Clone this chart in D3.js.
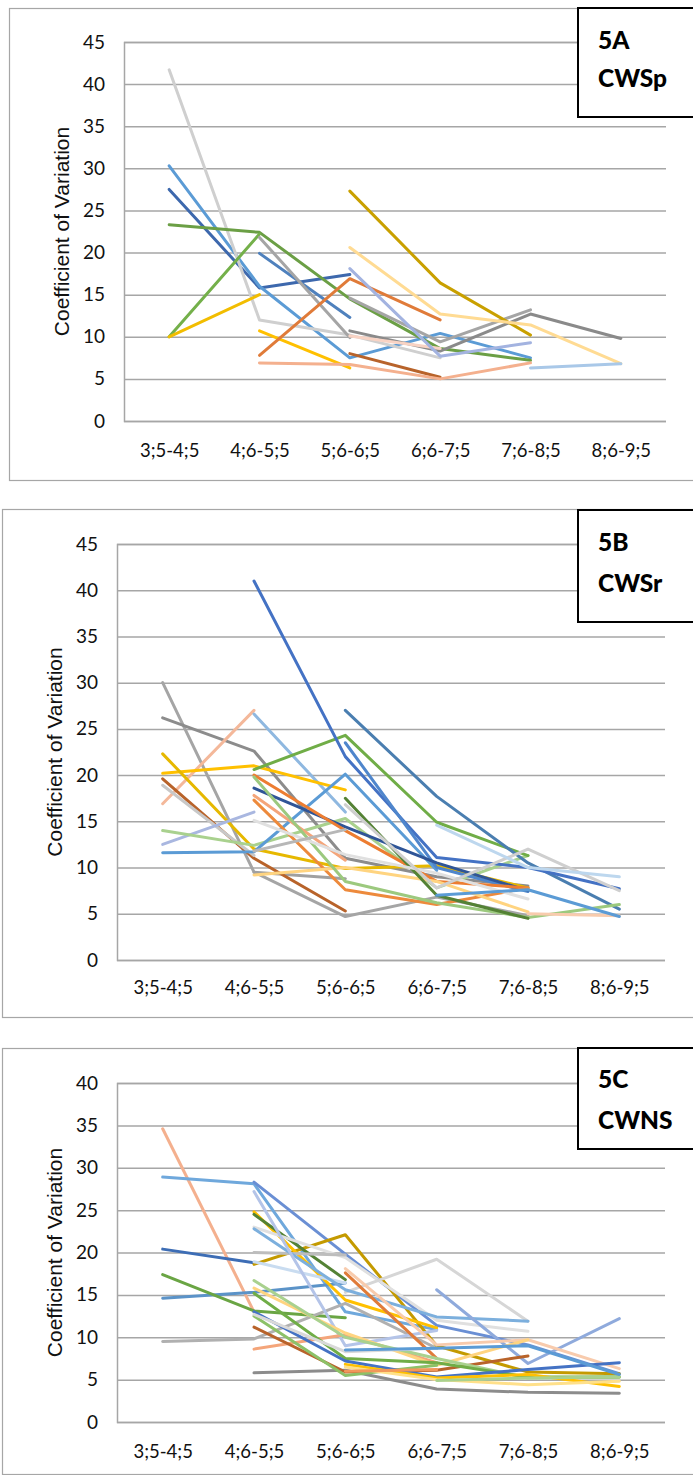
<!DOCTYPE html>
<html><head><meta charset="utf-8">
<script src="https://cdn.jsdelivr.net/npm/d3@7"></script>
<style>body{margin:0;background:#fff}svg{display:block}</style>
</head><body>
<script>
// ---------- DATA ----------
const categories = ["3;5-4;5","4;6-5;5","5;6-6;5","6;6-7;5","7;6-8;5","8;6-9;5"];
const yTicksAB = [0,5,10,15,20,25,30,35,40,45];
const yTicksC = [0,5,10,15,20,25,30,35,40];
const yTitle = "Coefficient of Variation";
const labelsA = ["5A","CWSp"], labelsB = ["5B","CWSr"], labelsC = ["5C","CWNS"];
const N = null;

const seriesA = [
  [27.5,15.8,17.4,N,N,N],
  [30.3,16.0,7.5,10.4,7.5,N],
  [41.7,12.0,10.2,7.5,N,N],
  [23.3,22.4,14.5,8.6,7.2,N],
  [10.0,22.2,N,N,N,N],
  [10.0,15.0,N,N,N,N],
  [N,10.7,6.3,N,N,N],
  [N,19.9,12.3,N,N,N],
  [N,21.8,9.9,N,N,N],
  [N,N,14.6,9.4,13.2,N],
  [N,N,10.7,8.3,12.7,9.8],
  [N,7.8,16.9,12.0,N,N],
  [N,N,8.0,5.2,N,N],
  [N,6.9,6.7,5.0,6.9,N],
  [N,N,10.1,8.6,N,N],
  [N,N,18.1,7.7,9.3,N],
  [N,N,27.3,16.4,10.2,N],
  [N,N,20.6,12.7,11.4,6.8],
  [N,N,N,N,6.3,6.8]
];
const colorsA = ["#3d68ad","#5b9bd5","#cfcfcf","#6b9f45","#74b04a","#f2bd00","#ffc000","#4f81bd","#a5a5a5","#a5a5a5","#8a8a8a","#e07b39","#b8632a","#f4b08e","#f8d3c4","#a3b3e0","#c9a000","#ffdb93","#a9c8e8"];

const seriesB = [
  [30.0,9.5,4.7,6.8,4.8,N],
  [N,9.5,8.8,N,N,N],
  [26.2,22.6,11.0,9.0,8.0,N],
  [16.9,27.0,N,N,N,N],
  [N,26.6,16.0,N,N,N],
  [20.2,21.0,18.4,N,N,N],
  [22.3,12.0,9.9,10.2,7.8,N],
  [19.6,11.0,5.3,N,N,N],
  [18.9,11.3,N,N,N,N],
  [12.5,16.0,N,N,N,N],
  [14.0,12.4,15.3,7.8,11.3,N],
  [11.6,11.7,20.1,9.7,N,N],
  [N,20.6,24.3,14.9,11.3,N],
  [N,N,27.0,17.7,10.5,5.5],
  [N,41.0,22.0,11.1,10.0,7.7],
  [N,N,23.5,10.0,7.4,N],
  [N,18.6,14.4,10.5,7.5,N],
  [N,20.0,14.0,8.5,7.8,N],
  [N,17.8,10.8,N,N,N],
  [N,17.3,7.6,6.0,7.8,N],
  [N,9.2,10.0,8.5,5.2,N],
  [N,19.8,8.5,6.2,4.6,6.0],
  [N,N,17.5,7.0,4.5,N],
  [N,15.1,11.4,9.4,6.6,N],
  [N,N,16.8,7.8,12.0,7.5],
  [N,N,N,14.6,10.0,9.0],
  [N,N,N,N,5.0,4.8],
  [N,11.8,14.1,N,N,N],
  [N,N,N,7.0,7.6,4.7]
];
const colorsB = ["#a5a5a5","#a0a0a0","#8c8c8c","#f4b89a","#8fb8e0","#ffc000","#e6b800","#b8632a","#c8c8c8","#a9b7e0","#a9d18e","#5b9bd5","#70ad47","#4a7eb0","#4472c4","#4f86cc","#2f5597","#ed7d31","#f4a57a","#ed8a3c","#ffd480","#9cc97e","#548235","#e0e0e0","#cfcfcf","#bdd7ee","#f8cbad","#b7b7b7","#5b9bd5"];

const seriesC = [
  [34.6,13.0,N,N,N,N],
  [28.9,28.1,13.0,10.9,N,N],
  [N,28.3,19.8,11.4,9.1,5.7],
  [20.4,18.8,N,N,N,N],
  [14.6,15.3,16.4,N,N,N],
  [17.4,13.1,12.3,N,N,N],
  [9.5,9.8,14.0,8.7,N,N],
  [N,5.8,6.1,3.9,3.5,3.4],
  [N,18.6,22.1,9.0,5.9,5.7],
  [N,24.8,14.4,11.1,N,N],
  [N,24.5,16.8,N,N,N],
  [N,23.0,19.4,12.0,10.7,N],
  [N,N,15.3,19.2,11.9,N],
  [N,20.0,19.7,N,N,N],
  [N,18.9,16.4,N,N,N],
  [N,22.8,15.6,12.4,11.9,N],
  [N,27.2,9.0,10.8,N,N],
  [N,N,N,15.6,6.9,12.2],
  [N,N,18.1,9.1,9.7,6.3],
  [N,N,17.6,7.5,N,N],
  [N,8.6,10.3,7.0,N,N],
  [N,11.2,5.9,6.1,7.8,N],
  [N,15.8,10.5,6.7,9.7,N],
  [N,16.7,10.0,7.5,5.2,5.3],
  [N,15.2,7.5,7.0,5.3,5.3],
  [N,12.5,5.5,6.7,N,N],
  [N,13.0,7.2,5.3,6.2,7.0],
  [N,N,6.8,5.2,5.6,4.2],
  [N,N,6.5,5.0,4.4,4.8],
  [N,N,N,4.9,5.2,5.3],
  [N,12.7,8.3,8.7,N,N],
  [N,N,8.5,8.7,9.0,5.6],
  [N,N,6.0,6.2,N,N]
];
const colorsC = ["#f4b08e","#6fa8dc","#6a8fd4","#3d6db5","#5b93c8","#6aa544","#b0b0b0","#8c8c8c","#c49a00","#ffc000","#548235","#e0e0e0","#d6d6d6","#bdbdbd","#c9dcf0","#7cafdd","#b4c4e8","#8faadc","#f8cbad","#e07b39","#f4a57a","#b8632a","#ffd480","#a9d18e","#70ad47","#8cc168","#4472c4","#ffc000","#ffe08a","#a9d18e","#d9d9d9","#5b9bd5","#f1975a"];

// ---------- DRAW ----------
const W = 693, H = 1475;
const svg = d3.select("body").append("svg").attr("width", W).attr("height", H);
svg.append("rect").attr("width", W).attr("height", H).attr("fill", "#fff");

const panels = [
  {frame:[9,8,720,472], x0:124, x1:666, yTop:42, yBot:421, yMax:45, ticks:yTicksAB, series:seriesA, colors:colorsA, labels:labelsA, box:[578,8,130,109], lab1:49, lab2:87, titleX:62, xLabY:458},
  {frame:[2,509,720,508], x0:117, x1:665, yTop:544, yBot:960, yMax:45, ticks:yTicksAB, series:seriesB, colors:colorsB, labels:labelsB, box:[578,510,130,112], lab1:551, lab2:592, titleX:55, xLabY:995},
  {frame:[2,1048,720,426], x0:117, x1:665, yTop:1083, yBot:1422, yMax:40, ticks:yTicksC, series:seriesC, colors:colorsC, labels:labelsC, box:[578,1048,130,101], lab1:1088, lab2:1129, titleX:55, xLabY:1459}
];

panels.forEach(p => {
  const g = svg.append("g");
  g.append("rect").attr("x", p.frame[0]+0.5).attr("y", p.frame[1]+0.5)
    .attr("width", p.frame[2]).attr("height", p.frame[3])
    .attr("fill", "none").attr("stroke", "#a6a6a6").attr("stroke-width", 1.2);

  const x = d3.scalePoint().domain(categories).range([p.x0, p.x1]).padding(0.5);
  const y = d3.scaleLinear().domain([0, p.yMax]).range([p.yBot, p.yTop]);

  // gridlines
  const yAxis = d3.axisLeft(y).tickValues(p.ticks).tickSize(-(p.x1 - p.x0)).tickPadding(19);
  const ga = g.append("g").attr("transform", `translate(${p.x0},0)`).call(yAxis);
  ga.select(".domain").attr("stroke", "#a6a6a6").attr("stroke-width", 1.5);
  ga.selectAll(".tick line").attr("stroke", "#a6a6a6").attr("stroke-width", 1.5);
  ga.selectAll(".tick text").attr("font-family", "Lato, 'Open Sans', sans-serif")
    .attr("font-size", 19).attr("fill", "#111");

  // x axis labels
  const xAxis = d3.axisBottom(x).tickSize(0).tickPadding(0);
  const gx = g.append("g").attr("transform", `translate(0,${p.xLabY - 14})`).call(xAxis);
  gx.select(".domain").remove();
  gx.selectAll(".tick text").attr("font-family", "Lato, 'Open Sans', sans-serif")
    .attr("font-size", 18.5).attr("fill", "#111").attr("dy", "0.71em");

  // lines
  const line = d3.line().defined(d => d != null)
    .x((d, i) => x(categories[i])).y(d => y(d));
  p.series.forEach((s, i) => {
    g.append("path").datum(s).attr("d", line)
      .attr("fill", "none").attr("stroke", p.colors[i])
      .attr("stroke-width", 3).attr("stroke-linecap", "round").attr("stroke-linejoin", "round");
  });

  // y title
  g.append("text").attr("transform", `translate(${p.titleX},${(p.yTop + p.yBot) / 2}) rotate(-90)`)
    .attr("text-anchor", "middle").attr("dy", "0.35em")
    .attr("font-family", "'Liberation Sans', Arial, sans-serif").attr("font-size", 21)
    .attr("fill", "#111").text(yTitle);

  // label box
  g.append("rect").attr("x", p.box[0]).attr("y", p.box[1]).attr("width", p.box[2]).attr("height", p.box[3])
    .attr("fill", "#fff").attr("stroke", "#000").attr("stroke-width", 2);
  [p.lab1, p.lab2].forEach((yy, k) => {
    g.append("text").attr("x", p.box[0] + 20).attr("y", yy)
      .attr("font-family", "Lato, sans-serif").attr("font-weight", 900).attr("font-size", 24.5)
      .attr("fill", "#000").text(p.labels[k]);
  });
});
</script>
</body></html>
